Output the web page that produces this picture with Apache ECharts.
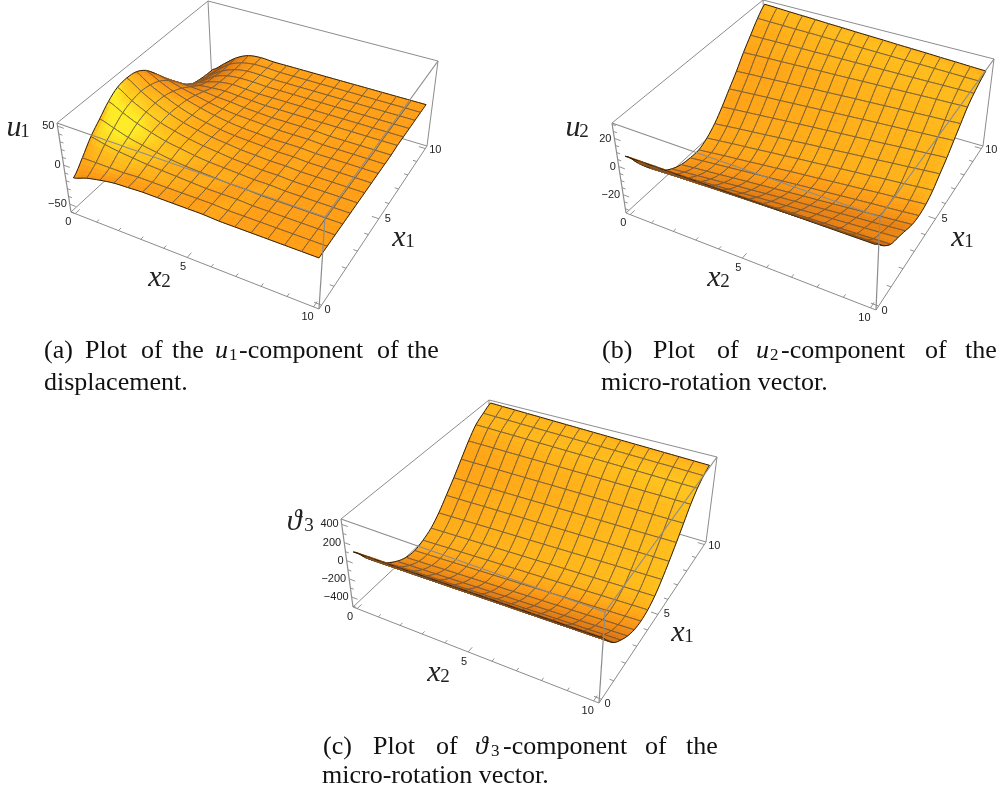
<!DOCTYPE html>
<html>
<head>
<meta charset="utf-8">
<style>
  html, body { margin: 0; padding: 0; background: #fff; }
  #chart { width: 1001px; height: 792px; }
</style>
</head>
<body>
<div id="chart"></div>
<script src="https://cdn.jsdelivr.net/npm/echarts@6/dist/echarts.min.js"></script>
<script>
// mesh positions, x1 and x2 both run 0..10 in 16 cells
const meshCoords = [0, 0.625, 1.25, 1.875, 2.5, 3.125, 3.75, 4.375, 5, 5.625, 6.25, 6.875, 7.5, 8.125, 8.75, 9.375, 10]

// values, one row per x1, one column per x2
const u1Values = [
  [-18, -12, -8, -5, -4, -3, -3, -3, -3, -3, -4, -4, -4, -4, -4, -4, -4],
  [-4, -4, -4, -4, -3, -3, -3, -3, -3, -3, -4, -4, -4, -4, -4, -4, -4],
  [12, 8, 5, 3, 1, 0, -1, -2, -3, -3, -3, -4, -4, -4, -4, -4, -4],
  [24, 18, 12, 8, 5, 2, 0, -1, -2, -3, -3, -4, -4, -4, -4, -4, -4],
  [36, 27, 19, 13, 8, 5, 2, 0, -1, -2, -3, -3, -4, -4, -4, -4, -4],
  [44, 32, 23, 15, 10, 6, 3, 1, -1, -2, -3, -3, -4, -4, -4, -4, -4],
  [46, 34, 24, 16, 10, 6, 3, 1, -1, -2, -3, -3, -4, -4, -4, -4, -4],
  [44, 32, 23, 15, 9, 5, 2, 0, -1, -2, -3, -3, -4, -4, -4, -4, -4],
  [36, 27, 19, 13, 8, 4, 1, -1, -2, -3, -3, -3, -4, -4, -4, -4, -4],
  [22, 18, 13, 9, 5, 2, 0, -1, -2, -3, -3, -3, -4, -4, -4, -4, -4],
  [6, 6, 5, 4, 2, 1, -1, -2, -3, -3, -3, -3, -4, -4, -4, -4, -4],
  [-10, -7, -3, -1, 0, -1, -2, -3, -3, -3, -3, -3, -3, -3, -3, -3, -3],
  [-22, -15, -8, -3, -1, -2, -3, -3, -3, -3, -3, -3, -3, -3, -3, -3, -3],
  [-31, -21, -10, -4, -2, -2, -3, -3, -3, -3, -3, -3, -3, -3, -3, -3, -3],
  [-35, -23, -12, -5, -2, -2, -3, -3, -3, -3, -3, -3, -3, -3, -3, -3, -3],
  [-37, -25, -12, -5, -2, -2, -3, -3, -3, -3, -3, -3, -3, -3, -3, -3, -3],
  [-38, -25, -12, -4, -2, -3, -3, -3, -3, -3, -3, -3, -3, -3, -3, -3, -3]
]
const u2Values = [
  [6.4, 6.5, 6.6, 6.7, 6.8, 6.9, 7, 7.1, 7.2, 7.3, 7.4, 7.5, 7.6, 7.7, 7.8, 7.9, 8],
  [-5, -4.75, -4.5, -4.25, -4, -3.75, -3.5, -3.25, -3, -2.75, -2.5, -2.25, -2, -1.75, -1.5, -1.25, -1],
  [-15, -14.6, -14.1, -13.7, -13.3, -12.8, -12.4, -11.9, -11.5, -11.1, -10.6, -10.2, -9.8, -9.3, -8.9, -8.4, -8],
  [-23, -22.25, -21.5, -20.75, -20, -19.25, -18.5, -17.75, -17, -16.25, -15.5, -14.75, -14, -13.25, -12.5, -11.75, -11],
  [-28, -27.1, -26.3, -25.4, -24.5, -23.6, -22.8, -21.9, -21, -20.1, -19.3, -18.4, -17.5, -16.6, -15.8, -14.9, -14],
  [-31, -30.1, -29.3, -28.4, -27.5, -26.6, -25.8, -24.9, -24, -23.1, -22.3, -21.4, -20.5, -19.6, -18.8, -17.9, -17],
  [-32, -31.1, -30.3, -29.4, -28.5, -27.6, -26.8, -25.9, -25, -24.1, -23.3, -22.4, -21.5, -20.6, -19.8, -18.9, -18],
  [-32, -31.1, -30.1, -29.2, -28.3, -27.3, -26.4, -25.4, -24.5, -23.6, -22.6, -21.7, -20.8, -19.8, -18.9, -17.9, -17],
  [-29, -28.1, -27.1, -26.2, -25.3, -24.3, -23.4, -22.4, -21.5, -20.6, -19.6, -18.7, -17.8, -16.8, -15.9, -14.9, -14],
  [-24, -23.1, -22.1, -21.2, -20.3, -19.3, -18.4, -17.4, -16.5, -15.6, -14.6, -13.7, -12.8, -11.8, -10.9, -9.9, -9],
  [-17, -16.2, -15.4, -14.6, -13.8, -12.9, -12.1, -11.3, -10.5, -9.7, -8.9, -8.1, -7.3, -6.4, -5.6, -4.8, -4],
  [-9, -8.3, -7.6, -6.9, -6.3, -5.6, -4.9, -4.2, -3.5, -2.8, -2.1, -1.4, -0.8, -0.1, 0.6, 1.3, 2],
  [-1, -0.4, 0.1, 0.7, 1.3, 1.8, 2.4, 2.9, 3.5, 4.1, 4.6, 5.2, 5.8, 6.3, 6.9, 7.4, 8],
  [8, 8.4, 8.8, 9.1, 9.5, 9.9, 10.3, 10.6, 11, 11.4, 11.8, 12.1, 12.5, 12.9, 13.3, 13.6, 14],
  [16, 16.1, 16.3, 16.4, 16.5, 16.6, 16.8, 16.9, 17, 17.1, 17.3, 17.4, 17.5, 17.6, 17.8, 17.9, 18],
  [24, 23.8, 23.6, 23.4, 23.3, 23.1, 22.9, 22.7, 22.5, 22.3, 22.1, 21.9, 21.8, 21.6, 21.4, 21.2, 21],
  [30, 29.6, 29.1, 28.7, 28.3, 27.8, 27.4, 26.9, 26.5, 26.1, 25.6, 25.2, 24.8, 24.3, 23.9, 23.4, 23]
]
const theta3Values = [
  [82, 85, 88, 91, 94, 97, 100, 103, 106, 109, 112, 115, 118, 121, 124, 127, 130],
  [-78, -75, -72, -69, -66, -63, -60, -57, -54, -51, -48, -45, -42, -39, -36, -33, -30],
  [-218, -215, -212, -209, -206, -203, -200, -197, -194, -191, -188, -185, -182, -179, -176, -173, -170],
  [-328, -324, -319, -315, -311, -307, -302, -298, -294, -290, -286, -281, -277, -273, -269, -264, -260],
  [-408, -403, -398, -393, -389, -384, -379, -374, -369, -364, -359, -354, -350, -345, -340, -335, -330],
  [-458, -453, -448, -442, -437, -432, -427, -422, -417, -411, -406, -401, -396, -391, -385, -380, -375],
  [-473, -468, -463, -457, -452, -447, -442, -437, -432, -426, -421, -416, -411, -406, -400, -395, -390],
  [-445, -441, -436, -432, -428, -423, -419, -414, -410, -406, -401, -397, -393, -388, -384, -379, -375],
  [-395, -391, -387, -383, -379, -375, -371, -367, -363, -358, -354, -350, -346, -342, -338, -334, -330],
  [-305, -302, -298, -295, -291, -288, -284, -281, -278, -274, -271, -267, -264, -260, -257, -253, -250],
  [-185, -183, -181, -178, -176, -174, -172, -170, -168, -165, -163, -161, -159, -157, -154, -152, -150],
  [-60, -59, -58, -56, -55, -54, -53, -51, -50, -49, -48, -46, -45, -44, -43, -41, -40],
  [80, 80, 80, 80, 80, 80, 80, 80, 80, 80, 80, 80, 80, 80, 80, 80, 80],
  [220, 219, 218, 216, 215, 214, 213, 211, 210, 209, 208, 206, 205, 204, 203, 201, 200],
  [340, 337, 334, 331, 328, 324, 321, 318, 315, 312, 309, 306, 303, 299, 296, 293, 290],
  [405, 401, 398, 394, 390, 386, 383, 379, 375, 371, 368, 364, 360, 356, 353, 349, 345],
  [458, 453, 448, 443, 438, 433, 428, 423, 418, 413, 408, 403, 398, 393, 388, 383, 378]
]

const u1TickLabels = [-50, 0, 50]
const u2TickLabels = [-20, 0, 20]
const theta3TickLabels = [-400, -200, 0, 200, 400]
const planeTickLabels = [0, 5, 10]

const captionA = [
  ['(a)', 44, 338], ['Plot', 85, 338], ['of', 141, 338], ['the', 172, 338], ['u', 215, 338, 'i'], ['1', 229, 347, 's'],
  ['-component', 239, 338], ['of', 377, 338], ['the', 407, 338], ['displacement.', 44, 370]
]
const captionB = [
  ['(b)', 602, 338], ['Plot', 653, 338], ['of', 717, 338], ['u', 756, 338, 'i'], ['2', 770, 347, 's'],
  ['-component', 781, 338], ['of', 925, 338], ['the', 965, 338], ['micro-rotation vector.', 601, 370]
]
const captionC = [
  ['(c)', 323, 734], ['Plot', 373, 734], ['of', 436, 734], ['ϑ', 475, 734, 'i'], ['3', 491, 743, 's'],
  ['-component', 503, 734], ['of', 645, 734], ['the', 686, 734], ['micro-rotation vector.', 322, 763]
]

// box corners on the page: [x1=0,x2=0], [x1=0,x2=10], [x1=10,x2=10], [x1=10,x2=0]
const panels = [
  {
    values: u1Values, zRange: [-60, 54], zStep: 10, zLabels: u1TickLabels,
    bottom: [[71, 212], [319, 309], [427, 146], [212, 82]],
    top: [[57, 123], [325, 217], [438, 61], [208, 1]],
    titles: [['u', '1', 18, 128, 7], ['x', '2', 159, 278, 7], ['x', '1', 403, 238, 7]]
  },
  {
    values: u2Values, zRange: [-33, 31], zStep: 5, zLabels: u2TickLabels,
    bottom: [[626, 213], [876, 310], [983, 146], [767, 84]],
    top: [[612, 123], [880, 217], [994, 59], [763, 0]],
    titles: [['u', '2', 577, 128, 7], ['x', '2', 718, 278, 7], ['x', '1', 962, 238, 7]]
  },
  {
    values: theta3Values, zRange: [-510, 460], zStep: 100, zLabels: theta3TickLabels,
    bottom: [[353, 607], [599, 703], [706, 542], [490, 478]],
    top: [[341, 519], [605, 612], [717, 457], [489, 400]],
    titles: [['ϑ', '3', 298, 522, 11], ['x', '2', 438, 673, 7], ['x', '1', 682, 633, 7]]
  }
]

const SANS = '"Liberation Sans", Arial, sans-serif'
const SERIF = '"Liberation Serif", "DejaVu Serif", serif'
const SHADES = [
  [0.1, 150, 70, 10],
  [0.5, 225, 120, 15],
  [0.79, 255, 158, 20],
  [0.9, 255, 185, 25],
  [1.04, 255, 235, 35]
]
const GLOSS = [-0.38, 0.38, 0.84]
const SUB = 4
// the box is a little wider than the 0..10 range of the plot
const PAD = 0.2

function quadMap(q) {
  const [[x0, y0], [x1, y1], [x2, y2], [x3, y3]] = q
  const sx = x0 - x1 + x2 - x3
  const sy = y0 - y1 + y2 - y3
  const dx1 = x1 - x2, dx2 = x3 - x2, dy1 = y1 - y2, dy2 = y3 - y2
  const den = dx1 * dy2 - dx2 * dy1
  const g = (sx * dy2 - dx2 * sy) / den
  const h = (dx1 * sy - sx * dy1) / den
  const a = x1 - x0 + g * x1, b = x3 - x0 + h * x3
  const d = y1 - y0 + g * y1, e = y3 - y0 + h * y3
  return (u, v) => {
    const w = g * u + h * v + 1
    return [(a * u + b * v + x0) / w, (d * u + e * v + y0) / w]
  }
}

function makeProjector(panel) {
  const low = quadMap(panel.bottom)
  const high = quadMap(panel.top)
  const [zMin, zMax] = panel.zRange
  const span = 10 + 2 * PAD
  return (x1, x2, z) => {
    const u = (x2 + PAD) / span, v = (x1 + PAD) / span
    const a = low(u, v)
    const b = high(u, v)
    const f = (z - zMin) / (zMax - zMin)
    return [a[0] + (b[0] - a[0]) * f, a[1] + (b[1] - a[1]) * f]
  }
}

function catmull(p0, p1, p2, p3, t) {
  return 0.5 * (2 * p1 + (p2 - p0) * t + (2 * p0 - 5 * p1 + 4 * p2 - p3) * t * t + (3 * p1 - p0 - 3 * p2 + p3) * t * t * t)
}

// smooth surface height between the read values, r and c are fractional row and column
function heightAt(m, r, c) {
  const n = m.length - 1
  r = Math.max(0, Math.min(n, r))
  c = Math.max(0, Math.min(n, c))
  const i = Math.min(n - 1, Math.floor(r)), j = Math.min(n - 1, Math.floor(c))
  const rows = []
  for (let k = -1; k <= 2; k++) {
    const row = m[Math.max(0, Math.min(n, i + k))]
    rows.push(catmull(row[Math.max(0, j - 1)], row[j], row[j + 1], row[Math.min(n, j + 2)], c - j))
  }
  return catmull(rows[0], rows[1], rows[2], rows[3], r - i)
}

function shade(panel, r, c) {
  const m = panel.values
  const n = m.length - 1
  const scale = 0.4 / (panel.zRange[1] - panel.zRange[0]) * 16
  const e = 0.2
  const nx = -(heightAt(m, r + e, c) - heightAt(m, r - e, c)) / (2 * e) * scale
  const ny = -(heightAt(m, r, c + e) - heightAt(m, r, c - e)) / (2 * e) * scale
  const len = Math.sqrt(nx * nx + ny * ny + 1)
  // light sits off to the right, so the x1 slope catches more of it further along x2
  const lx = -0.34 - 0.13 * c / n
  const gloss = Math.max(0, (nx * GLOSS[0] + ny * GLOSS[1] + GLOSS[2]) / len)
  const d = (nx * lx + ny * 0.45 + 0.79) / len + 0.12 * Math.pow(gloss, 40)
  let k = 0
  while (k < SHADES.length - 2 && d > SHADES[k + 1][0]) k++
  const a = SHADES[k], b = SHADES[k + 1]
  const t = Math.max(0, Math.min(1, (d - a[0]) / (b[0] - a[0])))
  const mix = i => Math.round(a[i] + (b[i] - a[i]) * t)
  return 'rgb(' + mix(1) + ',' + mix(2) + ',' + mix(3) + ')'
}

function surfaceSeries(panel) {
  const project = makeProjector(panel)
  const m = panel.values
  const n = m.length - 1
  const data = []
  // far corner first so that nearer cells paint over it
  for (let i = n - 1; i >= 0; i--) {
    for (let j = 0; j < n; j++) data.push([meshCoords[i], meshCoords[j], m[i][j], i, j])
  }
  const pt = (api, r, c) => api.coord(project(r * 10 / n, c * 10 / n, heightAt(m, r, c)))
  return {
    type: 'custom',
    coordinateSystem: 'cartesian2d',
    silent: true,
    animation: false,
    clip: false,
    data,
    renderItem(params, api) {
      const i = api.value(3), j = api.value(4)
      const children = []
      for (let a = 0; a < SUB; a++) {
        for (let b = 0; b < SUB; b++) {
          const r0 = i + a / SUB, r1 = i + (a + 1) / SUB
          const c0 = j + b / SUB, c1 = j + (b + 1) / SUB
          const color = shade(panel, (r0 + r1) / 2, (c0 + c1) / 2)
          children.push({
            type: 'polygon',
            shape: { points: [pt(api, r0, c0), pt(api, r0, c1), pt(api, r1, c1), pt(api, r1, c0)] },
            style: { fill: color, stroke: color, lineWidth: 0.6 }
          })
        }
      }
      const edge = (fn, isBorder) => {
        const points = []
        for (let k = 0; k <= SUB; k++) points.push(fn(k / SUB))
        children.push({
          type: 'polyline',
          shape: { points },
          style: { fill: 'none', stroke: isBorder ? '#2a2010' : '#5e5240', lineWidth: isBorder ? 1 : 0.8 }
        })
      }
      edge(t => pt(api, i, j + t), i === 0)
      edge(t => pt(api, i + 1, j + t), i + 1 === n)
      edge(t => pt(api, i + t, j), j === 0)
      edge(t => pt(api, i + t, j + 1), j + 1 === n)
      return { type: 'group', children }
    }
  }
}

function edgeSeries(panel, front) {
  const project = makeProjector(panel)
  const [lo, hi] = panel.zRange
  const s = -PAD, e = 10 + PAD
  const edges = front ? [
    [s, s, hi, s, e, hi],
    [s, e, hi, e, e, hi],
    [s, e, lo, s, e, hi],
    [s, s, lo, s, s, hi]
  ] : [
    [s, s, hi, e, s, hi],
    [e, s, hi, e, e, hi],
    [e, s, lo, e, s, hi],
    [e, e, lo, e, e, hi],
    [e, s, lo, e, e, lo],
    [s, s, lo, e, s, lo],
    [s, s, lo, s, e, lo],
    [s, e, lo, e, e, lo]
  ]
  return {
    type: 'custom',
    coordinateSystem: 'cartesian2d',
    silent: true,
    animation: false,
    clip: false,
    data: edges,
    renderItem(params, api) {
      const a = api.coord(project(api.value(0), api.value(1), api.value(2)))
      const b = api.coord(project(api.value(3), api.value(4), api.value(5)))
      return {
        type: 'line',
        shape: { x1: a[0], y1: a[1], x2: b[0], y2: b[1] },
        style: { stroke: '#8c8c8c', lineWidth: front ? 1.2 : 1 }
      }
    }
  }
}

function tickSeries(panel) {
  const project = makeProjector(panel)
  const [lo, hi] = panel.zRange
  const s = -PAD, e = 10 + PAD
  const data = []
  for (let v = 0; v <= 10; v++) {
    const major = v % 5 === 0
    const len = major ? 0.28 : 0.16
    data.push([s, v, lo, s + len, v, lo])
    data.push([v, e, lo, v, e - len, lo])
  }
  for (let z = Math.ceil(lo / panel.zStep) * panel.zStep; z <= hi; z += panel.zStep) {
    const major = panel.zLabels.includes(z)
    data.push([s, s, z, s, s + (major ? 0.28 : 0.16), z])
  }
  return {
    type: 'custom',
    coordinateSystem: 'cartesian2d',
    silent: true,
    animation: false,
    clip: false,
    data,
    renderItem(params, api) {
      const a = api.coord(project(api.value(0), api.value(1), api.value(2)))
      const b = api.coord(project(api.value(3), api.value(4), api.value(5)))
      return {
        type: 'line',
        shape: { x1: a[0], y1: a[1], x2: b[0], y2: b[1] },
        style: { stroke: '#777', lineWidth: 0.8 }
      }
    }
  }
}

const X2_LABEL_SHIFT = [[-7, 8], [-4, 10], [-6, 10]]
const X1_LABEL_SHIFT = [[6, 5], [9, 0], [10, 1]]

function labelSeries(panel) {
  const project = makeProjector(panel)
  const lo = panel.zRange[0]
  const s = -PAD, e = 10 + PAD
  const data = []
  planeTickLabels.forEach((v, k) => {
    data.push([s, v, lo, X2_LABEL_SHIFT[k][0], X2_LABEL_SHIFT[k][1], String(v), 'center'])
    data.push([v, e, lo, X1_LABEL_SHIFT[k][0], X1_LABEL_SHIFT[k][1], String(v), 'center'])
  })
  panel.zLabels.forEach(z => {
    data.push([s, s, z, -3, 0, String(z).replace('-', '\u2212'), 'right'])
  })
  return {
    type: 'custom',
    coordinateSystem: 'cartesian2d',
    silent: true,
    animation: false,
    clip: false,
    data: data.map(row => row.slice(0, 5)),
    renderItem(params, api) {
      const row = data[params.dataIndex]
      const p = api.coord(project(row[0], row[1], row[2]))
      return {
        type: 'text',
        x: p[0] + row[3],
        y: p[1] + row[4],
        style: { text: row[5], font: '11px ' + SANS, fill: '#222', align: row[6], verticalAlign: 'middle' }
      }
    }
  }
}

function captionElements(words) {
  return words.map(w => ({
    type: 'text',
    x: w[1],
    y: w[2],
    silent: true,
    style: {
      text: w[0],
      fill: '#111',
      font: (w[3] === 'i' ? 'italic ' : '') + (w[3] === 's' ? '17px ' : '26px ') + SERIF,
      align: 'left',
      verticalAlign: 'top'
    }
  }))
}

function titleElements(panel) {
  const out = []
  panel.titles.forEach(([sym, idx, x, y, gap]) => {
    out.push({
      type: 'text', x: x - 4, y: y, silent: true,
      style: { text: sym, fill: '#222', font: 'italic 30px ' + SERIF, align: 'center', verticalAlign: 'middle' }
    })
    out.push({
      type: 'text', x: x + gap, y: y + 4, silent: true,
      style: { text: idx, fill: '#222', font: '19px ' + SERIF, align: 'center', verticalAlign: 'middle' }
    })
  })
  return out
}

const chart = echarts.init(document.getElementById('chart'), null, { renderer: 'canvas' })
const series = []
panels.forEach(p => {
  series.push(edgeSeries(p, false), tickSeries(p), surfaceSeries(p), edgeSeries(p, true), labelSeries(p))
})
chart.setOption({
  animation: false,
  backgroundColor: '#fff',
  grid: { left: 0, top: 0, width: 1001, height: 792 },
  xAxis: { type: 'value', min: 0, max: 1001, show: false },
  yAxis: { type: 'value', min: 0, max: 792, inverse: true, show: false },
  graphic: { elements: [...captionElements(captionA), ...captionElements(captionB), ...captionElements(captionC), ...panels.flatMap(titleElements)] },
  series
})
</script>
</body>
</html>
